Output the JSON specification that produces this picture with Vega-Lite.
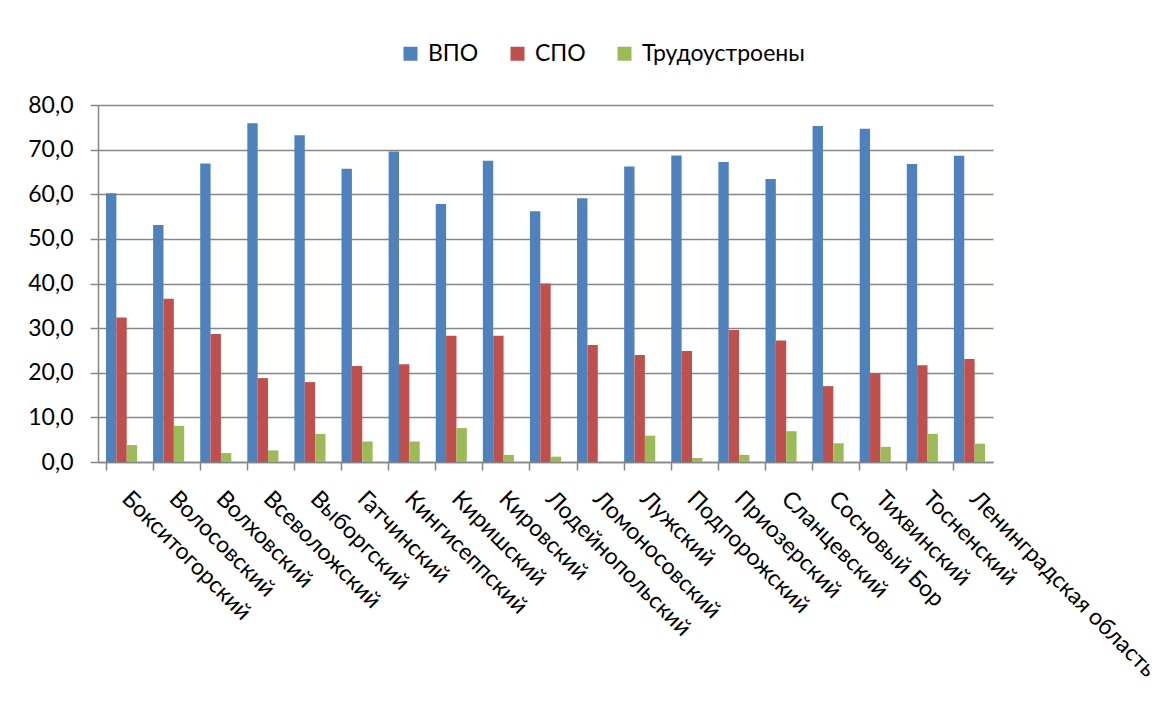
{
  "$schema": "https://vega.github.io/schema/vega-lite/v6.json",
  "width": 895,
  "height": 357,
  "autosize": {"type": "none"},
  "padding": {"left": 98, "top": 105, "right": 177, "bottom": 242},
  "background": "white",
  "data": {
    "values": [
      {"district": "Бокситогорский", "series": "ВПО", "value": 60.2},
      {"district": "Бокситогорский", "series": "СПО", "value": 32.4},
      {"district": "Бокситогорский", "series": "Трудоустроены", "value": 3.8},
      {"district": "Волосовский", "series": "ВПО", "value": 53.1},
      {"district": "Волосовский", "series": "СПО", "value": 36.6},
      {"district": "Волосовский", "series": "Трудоустроены", "value": 8.1},
      {"district": "Волховский", "series": "ВПО", "value": 66.9},
      {"district": "Волховский", "series": "СПО", "value": 28.7},
      {"district": "Волховский", "series": "Трудоустроены", "value": 2.0},
      {"district": "Всеволожский", "series": "ВПО", "value": 75.9},
      {"district": "Всеволожский", "series": "СПО", "value": 18.8},
      {"district": "Всеволожский", "series": "Трудоустроены", "value": 2.6},
      {"district": "Выборгский", "series": "ВПО", "value": 73.2},
      {"district": "Выборгский", "series": "СПО", "value": 17.9},
      {"district": "Выборгский", "series": "Трудоустроены", "value": 6.3},
      {"district": "Гатчинский", "series": "ВПО", "value": 65.7},
      {"district": "Гатчинский", "series": "СПО", "value": 21.5},
      {"district": "Гатчинский", "series": "Трудоустроены", "value": 4.6},
      {"district": "Кингисеппский", "series": "ВПО", "value": 69.6},
      {"district": "Кингисеппский", "series": "СПО", "value": 21.9},
      {"district": "Кингисеппский", "series": "Трудоустроены", "value": 4.6},
      {"district": "Киришский", "series": "ВПО", "value": 57.8},
      {"district": "Киришский", "series": "СПО", "value": 28.3},
      {"district": "Киришский", "series": "Трудоустроены", "value": 7.6},
      {"district": "Кировский", "series": "ВПО", "value": 67.5},
      {"district": "Кировский", "series": "СПО", "value": 28.3},
      {"district": "Кировский", "series": "Трудоустроены", "value": 1.6},
      {"district": "Лодейнопольский", "series": "ВПО", "value": 56.2},
      {"district": "Лодейнопольский", "series": "СПО", "value": 40.0},
      {"district": "Лодейнопольский", "series": "Трудоустроены", "value": 1.2},
      {"district": "Ломоносовский", "series": "ВПО", "value": 59.1},
      {"district": "Ломоносовский", "series": "СПО", "value": 26.2},
      {"district": "Ломоносовский", "series": "Трудоустроены", "value": 0.0},
      {"district": "Лужский", "series": "ВПО", "value": 66.2},
      {"district": "Лужский", "series": "СПО", "value": 24.0},
      {"district": "Лужский", "series": "Трудоустроены", "value": 5.9},
      {"district": "Подпорожский", "series": "ВПО", "value": 68.7},
      {"district": "Подпорожский", "series": "СПО", "value": 24.9},
      {"district": "Подпорожский", "series": "Трудоустроены", "value": 0.9},
      {"district": "Приозерский", "series": "ВПО", "value": 67.2},
      {"district": "Приозерский", "series": "СПО", "value": 29.6},
      {"district": "Приозерский", "series": "Трудоустроены", "value": 1.6},
      {"district": "Сланцевский", "series": "ВПО", "value": 63.4},
      {"district": "Сланцевский", "series": "СПО", "value": 27.2},
      {"district": "Сланцевский", "series": "Трудоустроены", "value": 6.9},
      {"district": "Сосновый Бор", "series": "ВПО", "value": 75.3},
      {"district": "Сосновый Бор", "series": "СПО", "value": 17.0},
      {"district": "Сосновый Бор", "series": "Трудоустроены", "value": 4.2},
      {"district": "Тихвинский", "series": "ВПО", "value": 74.7},
      {"district": "Тихвинский", "series": "СПО", "value": 19.9},
      {"district": "Тихвинский", "series": "Трудоустроены", "value": 3.4},
      {"district": "Тосненский", "series": "ВПО", "value": 66.8},
      {"district": "Тосненский", "series": "СПО", "value": 21.7},
      {"district": "Тосненский", "series": "Трудоустроены", "value": 6.3},
      {"district": "Ленинградская область", "series": "ВПО", "value": 68.6},
      {"district": "Ленинградская область", "series": "СПО", "value": 23.1},
      {"district": "Ленинградская область", "series": "Трудоустроены", "value": 4.1}
    ]
  },
  "mark": {"type": "bar"},
  "encoding": {
    "x": {
      "field": "district",
      "type": "nominal",
      "sort": null,
      "scale": {"paddingInner": 0.34, "paddingOuter": 0.17},
      "axis": {
        "title": null,
        "labelAngle": 45,
        "labelAlign": "left",
        "labelBaseline": "top",
        "labelPadding": 17,
        "labelOffset": 12,
        "labelFontSize": 23,
        "labelFont": "Lato",
        "labelColor": "black",
        "labelLimit": 400,
        "bandPosition": 0,
        "tickSize": 8,
        "tickColor": "#868686",
        "tickWidth": 1.5,
        "domainColor": "#868686",
        "domainWidth": 1.5,
        "grid": false
      }
    },
    "xOffset": {
      "field": "series",
      "type": "nominal",
      "scale": {"domain": ["ВПО", "СПО", "Трудоустроены"], "paddingInner": 0, "paddingOuter": 0}
    },
    "y": {
      "field": "value",
      "type": "quantitative",
      "scale": {"domain": [0, 80], "nice": false},
      "axis": {
        "title": null,
        "values": [0, 10, 20, 30, 40, 50, 60, 70, 80],
        "labelExpr": "replace(format(datum.value, '.1f'), '.', ',')",
        "labelFontSize": 23,
        "labelFont": "Lato",
        "labelColor": "black",
        "labelPadding": 17,
        "tickSize": 8,
        "tickColor": "#868686",
        "tickWidth": 1.5,
        "domainColor": "#868686",
        "domainWidth": 1.5,
        "grid": true,
        "gridColor": "#868686",
        "gridWidth": 1.5
      }
    },
    "color": {
      "field": "series",
      "type": "nominal",
      "scale": {"domain": ["ВПО", "СПО", "Трудоустроены"], "range": ["#4F81BD", "#C0504D", "#9BBB59"]},
      "legend": {
        "title": null,
        "orient": "none",
        "legendX": 301,
        "legendY": -63,
        "direction": "horizontal",
        "symbolType": "square",
        "symbolSize": 196,
        "symbolStrokeWidth": 0,
        "labelFontSize": 23,
        "labelFont": "Lato",
        "labelColor": "black",
        "labelOffset": 6,
        "labelLimit": 400,
        "columnPadding": 27,
        "padding": 0
      }
    }
  },
  "config": {"view": {"stroke": null}}
}
